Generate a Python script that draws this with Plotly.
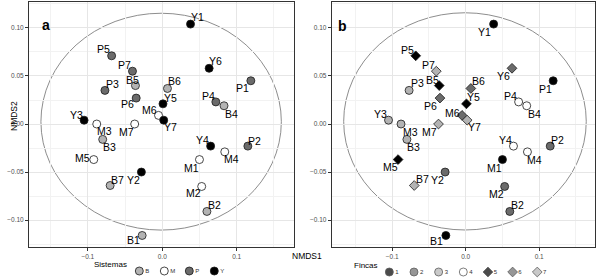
import plotly.graph_objects as go

# ---------------- data ----------------
SITES = ["Y1", "P5", "P7", "Y6", "P1", "B5", "P3", "B6", "P6", "Y5", "P4", "B4", "M6", "Y7",
         "Y3", "M3", "M7", "B3", "Y4", "P2", "M4", "M5", "M1", "Y2", "B7", "M2", "B2", "B1"]
NMDS1 = [0.038, -0.068, -0.040, 0.063, 0.119, -0.036, -0.077, 0.007, -0.035, 0.001, 0.072, 0.083, -0.005, 0.002,
         -0.105, -0.088, -0.037, -0.080, 0.065, 0.115, 0.084, -0.092, 0.050, -0.028, -0.070, 0.053, 0.060, -0.027]
NMDS2 = [0.104, 0.071, 0.055, 0.058, 0.045, 0.040, 0.035, 0.037, 0.027, 0.021, 0.023, 0.019, 0.009, 0.004,
         0.004, 0.000, 0.000, -0.016, -0.023, -0.023, -0.029, -0.037, -0.037, -0.050, -0.064, -0.065, -0.091, -0.116]
SISTEMA = [s[0] for s in SITES]
FINCA = [int(s[1]) for s in SITES]

SISTEMAS = ["B", "M", "P", "Y"]
FINCAS = ["1", "2", "3", "4", "5", "6", "7"]

# confidence ellipses (data units)
ELLIPSE_A = dict(x0=-0.163, x1=0.160, y0=-0.1104, y1=0.1153)
ELLIPSE_B = dict(x0=-0.166, x1=0.164, y0=-0.1103, y1=0.1158)

# ---------------- styles ----------------
FONT = "Liberation Sans, Arial, sans-serif"
BLACK, DARK, LIGHT, WHITE = "#000000", "#6b6b6b", "#b3b3b3", "#ffffff"
SIS_COLOR = {"B": LIGHT, "M": WHITE, "P": DARK, "Y": BLACK}
FIN_COLOR = {1: BLACK, 2: DARK, 3: LIGHT, 4: WHITE, 5: BLACK, 6: DARK, 7: LIGHT}
FIN_SYMBOL = {1: "circle", 2: "circle", 3: "circle", 4: "circle", 5: "diamond", 6: "diamond", 7: "diamond"}
FIN_SIZE = {"circle": 8, "diamond": 7.5}

# label offsets in screen px (dx right, dy down)
OFF_A = {"Y1": (7, -7), "P5": (-8, -7), "P7": (-8, -6), "Y6": (6, -7), "P1": (-8, 7), "B5": (-3, -6),
         "P3": (8, -6), "B6": (7, -7), "P6": (-9, 6), "Y5": (8, -6), "P4": (-7, -6), "B4": (7, 8),
         "M6": (-9, -5), "Y7": (7, 7), "Y3": (-8, -5), "M3": (8, 7), "M7": (-8, 8), "B3": (7, 8),
         "Y4": (-8, -6), "P2": (7, -5), "M4": (7, 7), "M5": (-11, -2), "M1": (-8, 8), "Y2": (-8, 8),
         "B7": (7, -6), "M2": (-8, 7), "B2": (8, -6), "B1": (-9, 5)}
OFF_B = {"Y1": (-9, 8), "P5": (-8, -6), "P7": (-8, -6), "Y6": (-9, 8), "P1": (-8, 8), "B5": (-7, -6),
         "P3": (8, -7), "B6": (8, -7), "P6": (-9, 8), "Y5": (7, -7), "P4": (-8, -6), "B4": (8, 8),
         "M6": (-10, -2), "Y7": (7, 7), "Y3": (-8, -6), "M3": (9, 8), "M7": (-9, 8), "B3": (7, 8),
         "Y4": (-8, -6), "P2": (7, -6), "M4": (7, 8), "M5": (-8, 7), "M1": (-8, 8), "Y2": (-8, 8),
         "B7": (8, -7), "M2": (-8, 8), "B2": (8, -6), "B1": (-9, 6)}

W, H = 599, 280
def px_x(p): return p / W
def px_y(p): return (H - p) / H

fig = go.Figure()
LINE = dict(color="#1a1a1a", width=0.8)

# panel a: by Sistema
for s in SISTEMAS:
    idx = [i for i, v in enumerate(SISTEMA) if v == s]
    fig.add_trace(go.Scatter(
        x=[NMDS1[i] for i in idx], y=[NMDS2[i] for i in idx], mode="markers",
        marker=dict(symbol="circle", size=8, color=SIS_COLOR[s], line=LINE),
        xaxis="x", yaxis="y", showlegend=False, hoverinfo="skip"))

# panel b: by Finca
for f in range(1, 8):
    idx = [i for i, v in enumerate(FINCA) if v == f]
    sym = FIN_SYMBOL[f]
    fig.add_trace(go.Scatter(
        x=[NMDS1[i] for i in idx], y=[NMDS2[i] for i in idx], mode="markers",
        marker=dict(symbol=sym, size=FIN_SIZE[sym], color=FIN_COLOR[f], line=LINE),
        xaxis="x2", yaxis="y2", showlegend=False, hoverinfo="skip"))

# custom compact legends on hidden categorical axes
fig.add_trace(go.Scatter(
    x=SISTEMAS, y=[0] * len(SISTEMAS), mode="markers+text", text=SISTEMAS,
    textposition="middle right", textfont=dict(size=6, color="#333333", family=FONT),
    marker=dict(symbol="circle", size=8, color=[SIS_COLOR[s] for s in SISTEMAS], line=LINE),
    xaxis="x3", yaxis="y3", showlegend=False, hoverinfo="skip", cliponaxis=False))
fig.add_trace(go.Scatter(
    x=FINCAS, y=[0] * len(FINCAS), mode="markers+text", text=FINCAS,
    textposition="middle right", textfont=dict(size=6, color="#333333", family=FONT),
    marker=dict(symbol=[FIN_SYMBOL[int(f)] for f in FINCAS],
                size=[FIN_SIZE[FIN_SYMBOL[int(f)]] for f in FINCAS],
                color=[FIN_COLOR[int(f)] for f in FINCAS], line=LINE),
    xaxis="x4", yaxis="y4", showlegend=False, hoverinfo="skip", cliponaxis=False))

# point labels
ann = []
for i, s in enumerate(SITES):
    for ax, off in (("", OFF_A), ("2", OFF_B)):
        dx, dy = off[s]
        ann.append(dict(x=NMDS1[i], y=NMDS2[i], xref="x" + ax, yref="y" + ax, text=s,
                        showarrow=False, xshift=dx, yshift=-dy, xanchor="center", yanchor="middle",
                        font=dict(size=10.5, color="#000000", family=FONT)))

# panel letters, titles
ann += [
    dict(x=px_x(40), y=px_y(15), xref="paper", yref="paper", text="<b>a</b>", showarrow=False,
         font=dict(size=14, color="#000000", family=FONT)),
    dict(x=px_x(342), y=px_y(16), xref="paper", yref="paper", text="<b>b</b>", showarrow=False,
         font=dict(size=14, color="#000000", family=FONT)),
    dict(x=px_x(307), y=px_y(263), xref="paper", yref="paper", text="NMDS1", showarrow=False,
         font=dict(size=8.5, color="#000000", family=FONT)),
    dict(x=px_x(7), y=px_y(116), xref="paper", yref="paper", text="NMDS2", showarrow=False,
         textangle=-90, font=dict(size=8.5, color="#000000", family=FONT)),
    dict(x=px_x(129), y=px_y(271), xref="paper", yref="paper", text="Sistemas", showarrow=False,
         xanchor="right", font=dict(size=8, color="#000000", family=FONT)),
    dict(x=px_x(380), y=px_y(272), xref="paper", yref="paper", text="Fincas", showarrow=False,
         xanchor="right", font=dict(size=8, color="#000000", family=FONT)),
]

axis_common = dict(showline=True, mirror=True, linecolor="#333333", linewidth=1,
                   ticks="outside", ticklen=3, tickcolor="#333333", tickwidth=1,
                   tickfont=dict(size=6.5, color="#4d4d4d", family=FONT), automargin=False,
                   showgrid=True, gridcolor="#e6e6e6", gridwidth=0.8, zeroline=False)
xcommon = dict(axis_common, dtick=0.1, tick0=0, tickformat=".1f",
               minor=dict(dtick=0.05, tick0=0, showgrid=True, gridcolor="#f2f2f2", gridwidth=0.5))
ycommon = dict(axis_common, dtick=0.05, tick0=0, tickformat=".2f",
               minor=dict(dtick=0.025, tick0=0, showgrid=True, gridcolor="#f2f2f2", gridwidth=0.5))

ydom = [px_y(247), px_y(2)]
hidden = dict(visible=False, fixedrange=True, automargin=False)

fig.update_layout(
    template="none",
    width=W, height=H, margin=dict(l=0, r=0, t=0, b=0, autoexpand=False),
    paper_bgcolor="white", plot_bgcolor="white",
    font=dict(family=FONT, color="#000000"),
    xaxis=dict(xcommon, domain=[px_x(29), px_x(294)], range=[-0.179, 0.177], anchor="y"),
    yaxis=dict(ycommon, domain=ydom, range=[-0.128, 0.127], anchor="x"),
    xaxis2=dict(xcommon, domain=[px_x(331.7), px_x(595)], range=[-0.1823, 0.1759], anchor="y2"),
    yaxis2=dict(ycommon, domain=ydom, range=[-0.128, 0.127], anchor="x2"),
    xaxis3=dict(hidden, type="category", categoryorder="array", categoryarray=SISTEMAS,
                range=[-0.5, 3.5], domain=[px_x(126.8), px_x(226.8)], anchor="y3"),
    yaxis3=dict(hidden, range=[-1, 1], domain=[px_y(280), px_y(262)], anchor="x3"),
    xaxis4=dict(hidden, type="category", categoryorder="array", categoryarray=FINCAS,
                range=[-0.5, 6.5], domain=[px_x(377), px_x(549.6)], anchor="y4"),
    yaxis4=dict(hidden, range=[-1, 1], domain=[px_y(280), px_y(264)], anchor="x4"),
    annotations=ann,
    shapes=[
        dict(type="circle", xref="x", yref="y", layer="below",
             line=dict(color="#808080", width=0.9), **ELLIPSE_A),
        dict(type="circle", xref="x2", yref="y2", layer="below",
             line=dict(color="#808080", width=0.9), **ELLIPSE_B),
    ],
)

fig.write_html("out.html", config={"displayModeBar": False},
               post_script="document.body.style.margin='0px';document.body.style.overflow='hidden';")
